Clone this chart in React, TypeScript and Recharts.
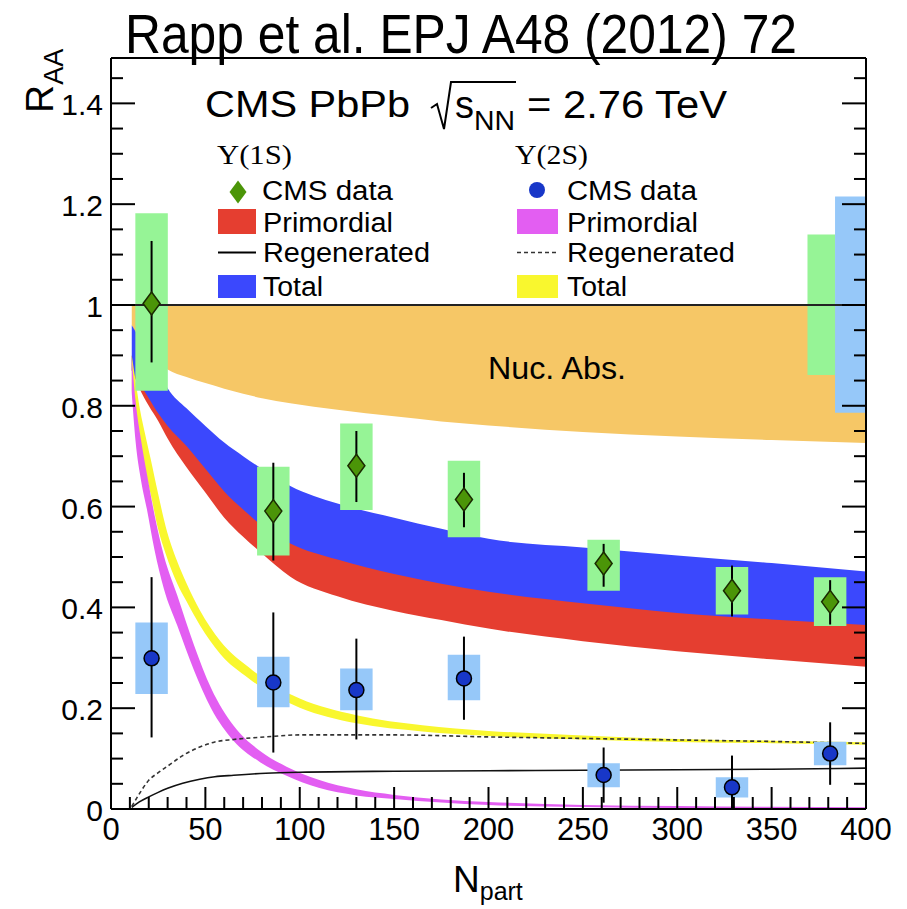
import {
  ComposedChart,
  Area,
  Line,
  Scatter,
  XAxis,
  YAxis,
  ErrorBar,
  ReferenceArea,
  ReferenceLine,
} from "recharts";

// centrality bins (N_part) of the CMS points
const nPart = [21.5, 86, 130, 187, 261, 329, 381];

// Upsilon(1S) CMS data
const ups1S = [1.003, 0.591, 0.681, 0.614, 0.487, 0.433, 0.411];
const ups1SStatLo = [0.886, 0.493, 0.609, 0.559, 0.441, 0.382, 0.366];
const ups1SStatHi = [1.127, 0.687, 0.75, 0.667, 0.526, 0.483, 0.454];
const ups1SSysLo = [0.83, 0.503, 0.593, 0.539, 0.433, 0.386, 0.363];
const ups1SSysHi = [1.182, 0.679, 0.765, 0.691, 0.534, 0.48, 0.46];

// Upsilon(2S) CMS data
const ups2S = [0.299, 0.251, 0.236, 0.259, 0.0675, 0.043, 0.11];
const ups2SStatLo = [0.142, 0.112, 0.138, 0.177, 0.0125, 0.0, 0.048];
const ups2SStatHi = [0.46, 0.39, 0.338, 0.342, 0.122, 0.106, 0.172];
const ups2SSysLo = [0.228, 0.202, 0.196, 0.216, 0.043, 0.023, 0.087];
const ups2SSysHi = [0.37, 0.302, 0.279, 0.306, 0.0907, 0.063, 0.1335];

// global uncertainty boxes at R_AA = 1 (1S, 2S)
const globalN1 = [369, 383.6];
const globalN2 = [383.6, 400];
const global1S = [0.861, 1.14];
const global2S = [0.786, 1.215];

// nuclear absorption band
const nucN = [11, 13, 20, 30, 40, 50, 60, 70, 80, 95, 120, 150, 175, 200, 250, 300, 350, 400];
const nucLo = [0.96, 0.945, 0.905, 0.872, 0.857, 0.845, 0.834, 0.824, 0.815, 0.805, 0.792, 0.779, 0.769, 0.761, 0.748, 0.739, 0.732, 0.726];
const nucHi = [1, 1, 1, 1, 1, 1, 1, 1, 1, 1, 1, 1, 1, 1, 1, 1, 1, 1];

// 1S total (blue) and primordial (red)
const band1N = [11, 15, 20, 25, 30, 40, 50, 60, 70, 80, 95, 120, 150, 175, 200, 250, 300, 350, 400];
const tot1Hi = [0.96, 0.935, 0.905, 0.87, 0.835, 0.795, 0.76, 0.727, 0.7, 0.675, 0.641, 0.606, 0.578, 0.556, 0.536, 0.519, 0.503, 0.488, 0.471];
const tot1Lo = [0.87, 0.845, 0.815, 0.785, 0.76, 0.72, 0.675, 0.63, 0.594, 0.562, 0.527, 0.495, 0.466, 0.447, 0.431, 0.408, 0.389, 0.376, 0.365];
const pri1Hi = [0.9, 0.88, 0.85, 0.82, 0.79, 0.75, 0.71, 0.66, 0.62, 0.59, 0.555, 0.52, 0.49, 0.47, 0.455, 0.43, 0.41, 0.4, 0.39];
const pri1Lo = [0.87, 0.835, 0.8, 0.77, 0.735, 0.678, 0.628, 0.578, 0.54, 0.507, 0.461, 0.422, 0.393, 0.375, 0.358, 0.333, 0.313, 0.297, 0.282];

// 2S total (yellow)
const tot2N = [11, 13, 15, 18, 21, 25, 29, 35, 40, 47, 58, 73, 86, 100, 130, 165, 200, 250, 300, 350, 400];
const tot2Hi = [0.9, 0.85, 0.8, 0.745, 0.695, 0.625, 0.56, 0.492, 0.448, 0.395, 0.333, 0.281, 0.246, 0.219, 0.186, 0.166, 0.155, 0.146, 0.139, 0.1355, 0.1325];
const tot2Lo = [0.83, 0.77, 0.73, 0.675, 0.625, 0.555, 0.506, 0.448, 0.412, 0.365, 0.307, 0.259, 0.226, 0.201, 0.17, 0.154, 0.145, 0.138, 0.133, 0.1305, 0.1275];

// 2S primordial (magenta)
const pri2N = [11, 13, 16, 19, 23, 28, 35, 44, 53, 65, 79, 93, 110, 130, 150, 175, 200, 250, 300, 350, 400];
const pri2Hi = [0.895, 0.81, 0.73, 0.665, 0.585, 0.503, 0.425, 0.325, 0.24, 0.165, 0.115, 0.084, 0.058, 0.039, 0.028, 0.019, 0.014, 0.008, 0.006, 0.0045, 0.0035];
const pri2Lo = [0.825, 0.73, 0.65, 0.595, 0.515, 0.437, 0.365, 0.275, 0.2, 0.135, 0.093, 0.066, 0.042, 0.027, 0.02, 0.013, 0.008, 0.004, 0.002, 0.0015, 0.0005];

// regenerated components
const regN = [11, 15, 20, 25, 30, 38, 47, 55, 65, 82, 100, 150, 200, 250, 300, 350, 400];
const regen1S = [0.003, 0.014, 0.024, 0.033, 0.041, 0.051, 0.059, 0.064, 0.067, 0.071, 0.073, 0.075, 0.076, 0.077, 0.078, 0.079, 0.081];
const regen2S = [0.005, 0.03, 0.057, 0.072, 0.085, 0.106, 0.123, 0.133, 0.138, 0.143, 0.147, 0.147, 0.143, 0.14, 0.137, 0.134, 0.13];

const xTicks = [0, 10, 20, 30, 40, 50, 60, 70, 80, 90, 100, 110, 120, 130, 140, 150, 160, 170, 180, 190, 200, 210, 220, 230, 240, 250, 260, 270, 280, 290, 300, 310, 320, 330, 340, 350, 360, 370, 380, 390, 400];
const yTicks = [0, 0.05, 0.1, 0.15, 0.2, 0.25, 0.3, 0.35, 0.4, 0.45, 0.5, 0.55, 0.6, 0.65, 0.7, 0.75, 0.8, 0.85, 0.9, 0.95, 1, 1.05, 1.1, 1.15, 1.2, 1.25, 1.3, 1.35, 1.4, 1.45];

const band = (ns: number[], lo: number[], hi: number[]) =>
  ns.map((n, i) => ({ n, v: [lo[i], hi[i]] }));
const curve = (ns: number[], ys: number[]) => ns.map((n, i) => ({ n, y: ys[i] }));
const points = (ys: number[], lo: number[], hi: number[]) =>
  nPart.map((n, i) => ({ n, y: ys[i], err: [ys[i] - lo[i], hi[i] - ys[i]] }));

const nucData = band(nucN, nucLo, nucHi);
const pri1Data = band(band1N, pri1Lo, pri1Hi);
const tot1Data = band(band1N, tot1Lo, tot1Hi);
const tot2Data = band(tot2N, tot2Lo, tot2Hi);
const pri2Data = band(pri2N, pri2Lo, pri2Hi);
const reg1Data = curve(regN, regen1S);
const reg2Data = curve(regN, regen2S);
const pts1S = points(ups1S, ups1SStatLo, ups1SStatHi);
const pts2S = points(ups2S, ups2SStatLo, ups2SStatHi);

const SANS = "'Liberation Sans', Arial, Helvetica, sans-serif";
const SERIF = "'Liberation Serif', 'Times New Roman', serif";
const boxHalf = 8.6;

const c = {
  nuc: "#F6C766",
  red: "#E53E30",
  blue: "#3B48FD",
  yellow: "#F9F72E",
  magenta: "#E35EF2",
  greenBox: "#96F496",
  blueBox: "#96C8F9",
  diamond: "#4B9508",
  circle: "#1837C8",
};

const isMajorX = (v: number) => v % 50 === 0;
const isMajorY = (v: number) => Math.abs(v * 5 - Math.round(v * 5)) < 1e-6;

function BottomTick({ x, y, payload }: any) {
  const major = isMajorX(payload.value);
  return (
    <g>
      <line x1={x} x2={x} y1={y} y2={y - (major ? 22 : 12)} stroke="#000" strokeWidth={2} />
      {major && (
        <text x={x} y={y + 31} textAnchor="middle" fontSize={31} fontFamily={SANS} fill="#000">
          {payload.value}
        </text>
      )}
    </g>
  );
}

function TopTick({ x, y, payload }: any) {
  const major = isMajorX(payload.value);
  return <line x1={x} x2={x} y1={y} y2={y + (major ? 22 : 12)} stroke="#000" strokeWidth={2} />;
}

function LeftTick({ x, y, payload }: any) {
  const major = isMajorY(payload.value);
  return (
    <g>
      <line x1={x} x2={x + (major ? 24 : 12)} y1={y} y2={y} stroke="#000" strokeWidth={2} />
      {major && (
        <text x={x - 8} y={y + 12} textAnchor="end" fontSize={30} fontFamily={SANS} fill="#000">
          {payload.value}
        </text>
      )}
    </g>
  );
}

function RightTick({ x, y, payload }: any) {
  const major = isMajorY(payload.value);
  return <line x1={x} x2={x - (major ? 24 : 12)} y1={y} y2={y} stroke="#000" strokeWidth={2} />;
}

function Diamond({ cx, cy }: any) {
  return (
    <path
      d={`M${cx},${cy - 11.5} L${cx + 8.5},${cy} L${cx},${cy + 11.5} L${cx - 8.5},${cy} Z`}
      fill={c.diamond}
      stroke="#1a2a00"
      strokeWidth={1.5}
    />
  );
}

function Dot({ cx, cy }: any) {
  return <circle cx={cx} cy={cy} r={7.5} fill={c.circle} stroke="#000" strokeWidth={1.5} />;
}

function Overlay() {
  return (
    <svg
      width={907}
      height={909}
      style={{ position: "absolute", left: 0, top: 0, pointerEvents: "none" }}
      fontFamily={SANS}
    >
      <text x={461} y={53} textAnchor="middle" fontSize={56} textLength={672} lengthAdjust="spacingAndGlyphs">
        Rapp et al. EPJ A48 (2012) 72
      </text>

      <text x={53} y={113} fontSize={39} transform="rotate(-90 53 113)">
        R<tspan fontSize={27} dy={10}>AA</tspan>
      </text>
      <text x={453} y={892} fontSize={37}>
        N<tspan fontSize={25} dy={8}>part</tspan>
      </text>

      <text x={205} y={117} fontSize={36} textLength={205} lengthAdjust="spacingAndGlyphs">
        CMS PbPb
      </text>
      <path d="M431,108 L437,104 L444,129 L451,82 L516,82" fill="none" stroke="#000" strokeWidth={2} />
      <text x={455} y={118} fontSize={38}>s</text>
      <text x={474} y={130} fontSize={28} textLength={41} lengthAdjust="spacingAndGlyphs">NN</text>
      <text x={527} y={118} fontSize={38} textLength={200} lengthAdjust="spacingAndGlyphs">
        = 2.76 TeV
      </text>

      {/* legend, 1S column */}
      <text x={217} y={164} fontSize={28} fontFamily={SERIF} textLength={75} lengthAdjust="spacingAndGlyphs">
        Υ(1S)
      </text>
      <path d="M238,180.5 L246.5,192 L238,203.5 L229.5,192 Z" fill={c.diamond} />
      <text x={262} y={200} fontSize={27} textLength={131} lengthAdjust="spacingAndGlyphs">CMS data</text>
      <rect x={218} y={209} width={38} height={25} fill={c.red} />
      <text x={263} y={232} fontSize={27} textLength={130} lengthAdjust="spacingAndGlyphs">Primordial</text>
      <line x1={218} x2={256} y1={252.5} y2={252.5} stroke="#000" strokeWidth={2} />
      <text x={263} y={262} fontSize={27} textLength={167} lengthAdjust="spacingAndGlyphs">Regenerated</text>
      <rect x={218} y={275} width={38} height={23} fill={c.blue} />
      <text x={263} y={296} fontSize={27} textLength={60} lengthAdjust="spacingAndGlyphs">Total</text>

      {/* legend, 2S column */}
      <text x={515} y={164} fontSize={28} fontFamily={SERIF} textLength={73} lengthAdjust="spacingAndGlyphs">
        Υ(2S)
      </text>
      <circle cx={537} cy={190} r={8} fill={c.circle} />
      <text x={567} y={200} fontSize={27} textLength={130} lengthAdjust="spacingAndGlyphs">CMS data</text>
      <rect x={517} y={209} width={41} height={25} fill={c.magenta} />
      <text x={567} y={232} fontSize={27} textLength={131} lengthAdjust="spacingAndGlyphs">Primordial</text>
      <line x1={517} x2={558} y1={252.5} y2={252.5} stroke="#333" strokeWidth={1.5} strokeDasharray="4 3" />
      <text x={567} y={262} fontSize={27} textLength={168} lengthAdjust="spacingAndGlyphs">Regenerated</text>
      <rect x={517} y={275} width={41} height={23} fill={c.yellow} />
      <text x={567} y={296} fontSize={27} textLength={60} lengthAdjust="spacingAndGlyphs">Total</text>

      <text x={488} y={379} fontSize={32} textLength={138} lengthAdjust="spacingAndGlyphs">Nuc. Abs.</text>
    </svg>
  );
}

export default function App() {
  return (
    <div style={{ position: "absolute", left: 0, top: 0, width: 907, height: 909, background: "#fff" }}>
      <ComposedChart width={907} height={909} margin={{ top: 48, right: 31, bottom: 70, left: 51 }}>
        <XAxis
          dataKey="n"
          type="number"
          domain={[0, 400]}
          allowDataOverflow
          ticks={xTicks}
          interval={0}
          height={30}
          tickLine={false}
          tickSize={0}
          tickMargin={0}
          axisLine={{ stroke: "#000", strokeWidth: 2 }}
          tick={(p: any) => <BottomTick {...p} />}
        />
        <XAxis
          xAxisId="top"
          orientation="top"
          type="number"
          domain={[0, 400]}
          allowDataOverflow
          ticks={xTicks}
          interval={0}
          height={10}
          tickLine={false}
          tickSize={0}
          tickMargin={0}
          axisLine={{ stroke: "#000", strokeWidth: 2 }}
          tick={(p: any) => <TopTick {...p} />}
        />
        <YAxis
          type="number"
          domain={[0, 1.49]}
          allowDataOverflow
          ticks={yTicks}
          interval={0}
          width={60}
          tickLine={false}
          tickSize={0}
          tickMargin={0}
          axisLine={{ stroke: "#000", strokeWidth: 2 }}
          tick={(p: any) => <LeftTick {...p} />}
        />
        <YAxis
          yAxisId="right"
          orientation="right"
          type="number"
          domain={[0, 1.49]}
          allowDataOverflow
          ticks={yTicks}
          interval={0}
          width={10}
          tickLine={false}
          tickSize={0}
          tickMargin={0}
          axisLine={{ stroke: "#000", strokeWidth: 2 }}
          tick={(p: any) => <RightTick {...p} />}
        />

        <Area data={nucData} dataKey="v" type="monotone" fill={c.nuc} fillOpacity={1} stroke="none" isAnimationActive={false} />
        <Area data={pri1Data} dataKey="v" type="monotone" fill={c.red} fillOpacity={1} stroke="none" isAnimationActive={false} />
        <Area data={tot1Data} dataKey="v" type="monotone" fill={c.blue} fillOpacity={1} stroke="none" isAnimationActive={false} />
        <Area data={tot2Data} dataKey="v" type="monotone" fill={c.yellow} fillOpacity={1} stroke="none" isAnimationActive={false} />
        <Area data={pri2Data} dataKey="v" type="monotone" fill={c.magenta} fillOpacity={1} stroke="none" isAnimationActive={false} />

        <Line data={reg1Data} dataKey="y" type="monotone" stroke="#111" strokeWidth={1.6} dot={false} activeDot={false} isAnimationActive={false} />
        <Line data={reg2Data} dataKey="y" type="monotone" stroke="#333" strokeWidth={1.6} strokeDasharray="4 3" dot={false} activeDot={false} isAnimationActive={false} />

        {nPart.map((n, i) => (
          <ReferenceArea
            key={`s1-${i}`}
            x1={n - boxHalf}
            x2={n + boxHalf}
            y1={ups1SSysLo[i]}
            y2={ups1SSysHi[i]}
            fill={c.greenBox}
            fillOpacity={1}
            stroke="none"
            ifOverflow="visible"
            zIndex={450}
          />
        ))}
        {nPart.map((n, i) => (
          <ReferenceArea
            key={`s2-${i}`}
            x1={n - boxHalf}
            x2={n + boxHalf}
            y1={ups2SSysLo[i]}
            y2={ups2SSysHi[i]}
            fill={c.blueBox}
            fillOpacity={1}
            stroke="none"
            ifOverflow="visible"
            zIndex={450}
          />
        ))}
        <ReferenceArea x1={globalN1[0]} x2={globalN1[1]} y1={global1S[0]} y2={global1S[1]} fill={c.greenBox} fillOpacity={1} stroke="none" zIndex={450} />
        <ReferenceArea x1={globalN2[0]} x2={globalN2[1]} y1={global2S[0]} y2={global2S[1]} fill={c.blueBox} fillOpacity={1} stroke="none" zIndex={450} />

        <ReferenceLine y={1} stroke="#222" strokeWidth={2} zIndex={460} />

        <Scatter data={pts1S} dataKey="y" shape={(p: any) => <Diamond {...p} />} isAnimationActive={false}>
          <ErrorBar dataKey="err" direction="y" width={0} stroke="#000" strokeWidth={2} zIndex={550} />
        </Scatter>
        <Scatter data={pts2S} dataKey="y" shape={(p: any) => <Dot {...p} />} isAnimationActive={false}>
          <ErrorBar dataKey="err" direction="y" width={0} stroke="#000" strokeWidth={2} zIndex={550} />
        </Scatter>
      </ComposedChart>
      <Overlay />
    </div>
  );
}
